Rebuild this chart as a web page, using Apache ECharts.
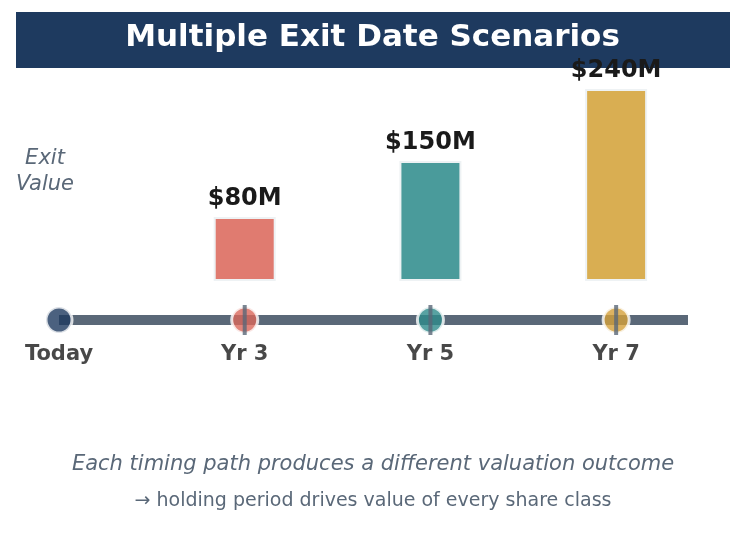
<!DOCTYPE html>
<html><head><meta charset="utf-8">
<script src="https://cdn.jsdelivr.net/npm/echarts@6/dist/echarts.min.js"></script>
<style>html,body{margin:0;padding:0;background:#fff}#main{width:745px;height:560px}</style>
</head><body><div id="main"></div>
<script>
var labels = ['Today', 'Yr 3', 'Yr 5', 'Yr 7'];
var positions = [0, 1, 2, 3];
var exitValues = [null, 80, 150, 240];
var barColors = ['#e07b70', '#e07b70', '#4a9b9b', '#d9ae52'];
var dotColors = ['#1e3a5f', '#d9665a', '#2e8b8b', '#d4a03a'];
var axisEnd = 3.387;

var chart = echarts.init(document.getElementById('main'));
var font = '"DejaVu Sans", sans-serif';

var bars = [], dots = [], ticks = [];
positions.forEach(function(p, i){
	if(exitValues[i] != null){
		bars.push({value:[p, exitValues[i]], itemStyle:{color:barColors[i]}});
		ticks.push([p, 0]);
	}
	dots.push({value:[p, 0], name:labels[i], itemStyle:{color:dotColors[i]}});
});

chart.setOption({
	animation:false,
	textStyle:{fontFamily:font},
	grid:[
		{left:59, right:57, top:81, bottom:279},
		{left:59, right:57, top:300, bottom:220}
	],
	xAxis:[
		{gridIndex:0, type:'value', min:0, max:axisEnd, show:false},
		{gridIndex:1, type:'value', min:0, max:axisEnd, show:false}
	],
	yAxis:[
		{gridIndex:0, type:'value', min:0, max:250, show:false},
		{gridIndex:1, type:'value', min:-1, max:1, show:false}
	],
	graphic:[
		{type:'rect', left:16, top:12, shape:{width:714, height:56}, style:{fill:'#1e3a5f'}},
		{type:'text', left:'center', top:22, style:{text:'Multiple Exit Date Scenarios', fill:'#fff', font:'bold 31px '+font}},
		{type:'text', x:45, y:172, style:{text:'Exit\nValue', fill:'#5a6878', font:'italic 21px '+font, align:'center', verticalAlign:'middle', lineHeight:26}},
		{type:'text', x:373, y:465, style:{text:'Each timing path produces a different valuation outcome', fill:'#5a6878', font:'italic 21px '+font, align:'center', verticalAlign:'middle'}},
		{type:'text', x:373, y:501, style:{text:'\u2192 holding period drives value of every share class', fill:'#5a6878', font:'19px '+font, align:'center', verticalAlign:'middle'}}
	],
	series:[
		{type:'bar', xAxisIndex:0, yAxisIndex:0, barWidth:62, data:bars,
			itemStyle:{borderColor:'#eef2f4', borderWidth:2},
			label:{show:true, position:'top', distance:6, color:'#1a1a1a', fontWeight:'bold', fontSize:24,
				formatter:function(p){ return '$' + p.value[1] + 'M'; }}},
		{type:'line', xAxisIndex:1, yAxisIndex:1, data:[[0,0],[axisEnd,0]], symbol:'none',
			lineStyle:{color:'#5a6878', width:10}, z:1},
		{type:'scatter', xAxisIndex:1, yAxisIndex:1, data:dots, symbolSize:26, z:3,
			itemStyle:{borderColor:'#fff', borderWidth:3},
			label:{show:true, position:'bottom', distance:10, formatter:'{b}', color:'#1a1a1a', fontWeight:'bold', fontSize:21}},
		{type:'scatter', xAxisIndex:1, yAxisIndex:1, data:ticks, symbol:'rect', symbolSize:[4,30], z:4,
			itemStyle:{color:'#5a6878'}}
	]
});
</script>
</body></html>
